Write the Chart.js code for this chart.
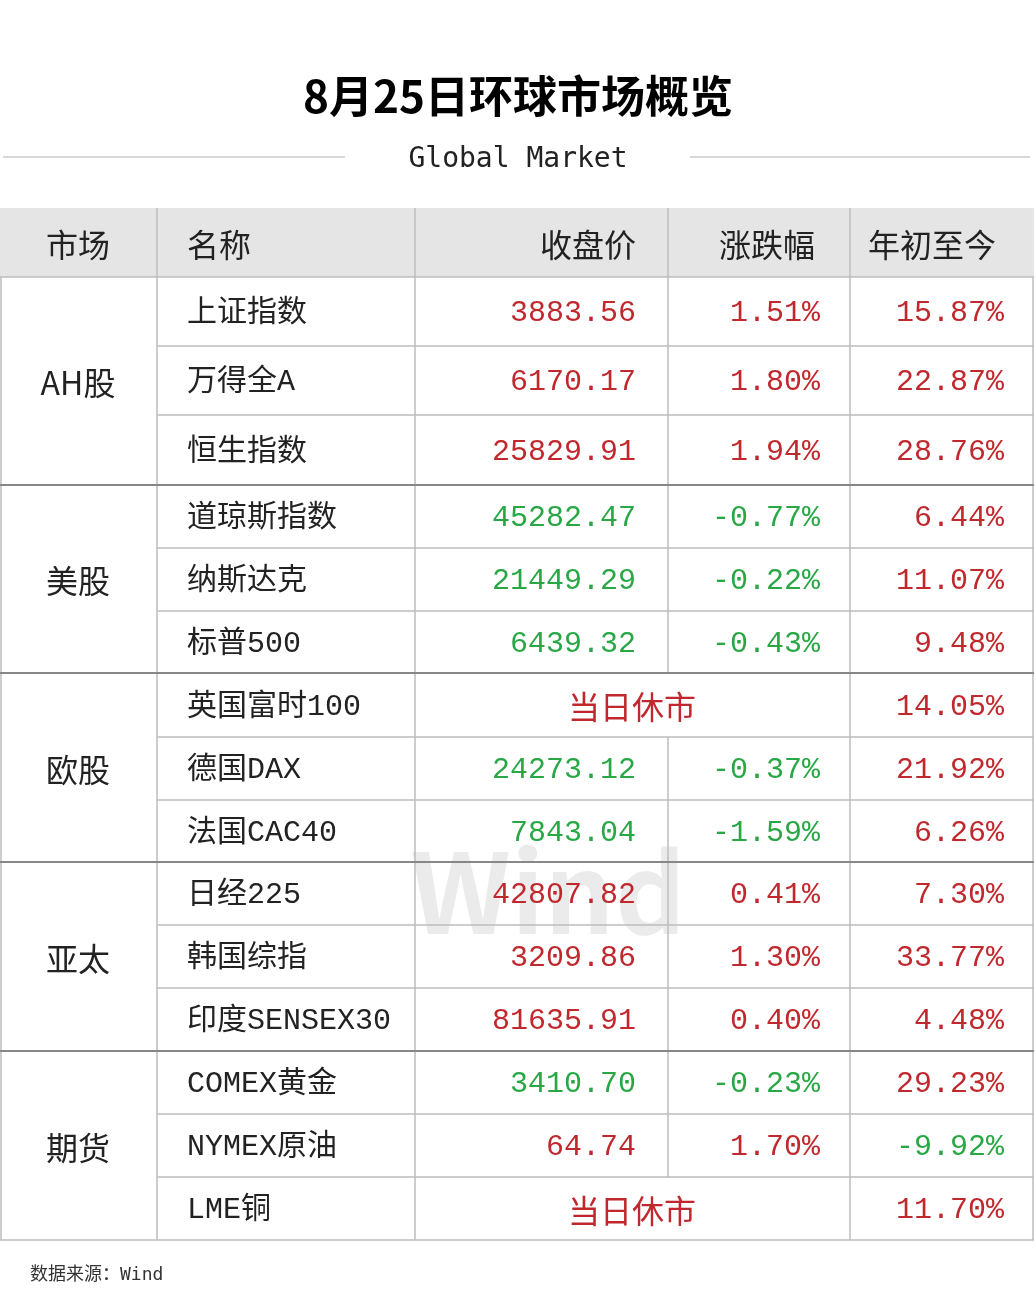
<!DOCTYPE html>
<html><head><meta charset="utf-8">
<script src="https://cdn.jsdelivr.net/npm/chart.js@4"></script>
<style>html,body{margin:0;padding:0;background:#fff}#w{width:1036px;height:1307px}</style>
</head><body><div id="w"><canvas id="c"></canvas></div>
<script>
const groups = ["AH股","美股","欧股","亚太","期货"];
const groupSizes = [3,3,3,3,3];
const names = ["上证指数","万得全A","恒生指数","道琼斯指数","纳斯达克","标普500","英国富时100","德国DAX","法国CAC40","日经225","韩国综指","印度SENSEX30","COMEX黄金","NYMEX原油","LME铜"];
const closes = ["3883.56","6170.17","25829.91","45282.47","21449.29","6439.32",null,"24273.12","7843.04","42807.82","3209.86","81635.91","3410.70","64.74",null];
const changes = [1.51,1.80,1.94,-0.77,-0.22,-0.43,null,-0.37,-1.59,0.41,1.30,0.40,-0.23,1.70,null];
const ytd = [15.87,22.87,28.76,6.44,11.07,9.48,14.05,21.92,6.26,7.30,33.77,4.48,29.23,-9.92,11.70];
const headers = ["市场","名称","收盘价","涨跌幅","年初至今"];
const closedText = "当日休市";

const RED="#c0282d", GREEN="#28a745", FONT='"Noto Sans CJK SC","Noto Sans",sans-serif';
const MONO='"Liberation Mono","Noto Sans CJK SC",monospace';
const colX=[0,157,415,668,850,1034];
const rowY=[208,277,346,415,485,548,611,673,737,800,862,925,988,1051,1114,1177,1240];

const tablePlugin={id:'tbl',afterDraw(chart){
  const ctx=chart.ctx, xs=chart.scales.x, ys=chart.scales.y;
  const X=v=>xs.getPixelForValue(v), Y=v=>ys.getPixelForValue(v);
  ctx.save();
  ctx.fillStyle="#000";ctx.textAlign="center";ctx.textBaseline="middle";
  ctx.font="bold 44px "+FONT;ctx.fillText("8月25日环球市场概览",X(518),Y(96));
  ctx.font="28px 'DejaVu Sans Mono',monospace";ctx.fillStyle="#222";ctx.fillText("Global Market",X(518),Y(160));
  ctx.strokeStyle="#ccc";ctx.lineWidth=1.5;
  ctx.beginPath();ctx.moveTo(X(3),Y(157));ctx.lineTo(X(345),Y(157));ctx.moveTo(X(690),Y(157));ctx.lineTo(X(1030),Y(157));ctx.stroke();
  ctx.font="bold 110px "+FONT;ctx.fillStyle="rgba(0,0,0,0.08)";ctx.fillText("Wind",X(548),Y(892));
  ctx.fillStyle="#e5e5e5";ctx.fillRect(X(0),Y(rowY[0]),X(1034)-X(0),Y(rowY[1])-Y(rowY[0]));
  ctx.font="32px "+FONT;ctx.fillStyle="#222";
  ctx.textAlign="center";ctx.fillText(headers[0],X(78),Y(245));
  ctx.textAlign="left";ctx.fillText(headers[1],X(187),Y(245));
  ctx.textAlign="right";ctx.fillText(headers[2],X(636),Y(245));
  ctx.textAlign="center";ctx.fillText(headers[3],X(767),Y(245));ctx.fillText(headers[4],X(932),Y(245));
  for(let i=0;i<names.length;i++){
    const cy=Y((rowY[i+1]+rowY[i+2])/2+2);
    ctx.font="30px "+MONO;ctx.fillStyle="#222";ctx.textAlign="left";ctx.fillText(names[i],X(187),cy);
    if(closes[i]===null){ctx.font="32px "+FONT;ctx.fillStyle=RED;ctx.textAlign="center";ctx.fillText(closedText,X(632),cy);ctx.font="30px "+MONO;}
    else{const c=changes[i]<0?GREEN:RED;ctx.fillStyle=c;ctx.textAlign="right";
      ctx.fillText(closes[i],X(636),cy);
      ctx.fillText(changes[i].toFixed(2)+"%",X(820),cy);}
    ctx.fillStyle=ytd[i]<0?GREEN:RED;ctx.textAlign="right";ctx.fillText(ytd[i].toFixed(2)+"%",X(1004),cy);
  }
  ctx.strokeStyle="#bdbdbd";ctx.lineWidth=1.5;ctx.beginPath();
  let r=1;const gStart=[];
  groups.forEach((g,gi)=>{gStart.push(r);r+=groupSizes[gi];});
  for(let i=1;i<rowY.length;i++){
    const isGroup=gStart.includes(i)||i===rowY.length-1;
    const x0=isGroup?0:157;
    ctx.moveTo(X(x0),Y(rowY[i]));ctx.lineTo(X(1034),Y(rowY[i]));
  }
  colX.forEach((cx,k)=>{
    const xx=X(cx)+(k==0?1:k==5?-1:0);
    if(k===3){
      ctx.moveTo(xx,Y(rowY[0]));
      for(let i=0;i<names.length;i++){
        if(closes[i]===null){ctx.lineTo(xx,Y(rowY[i+1]));ctx.moveTo(xx,Y(rowY[i+2]));}
      }
      ctx.lineTo(xx,Y(rowY[rowY.length-1]));
    } else {ctx.moveTo(xx,Y(rowY[k==0||k==5?1:0]));ctx.lineTo(xx,Y(rowY[rowY.length-1]));}
  });
  ctx.stroke();
  ctx.strokeStyle="#888";ctx.lineWidth=2;ctx.beginPath();
  gStart.slice(1).forEach(s=>{ctx.moveTo(X(0),Y(rowY[s]));ctx.lineTo(X(1034),Y(rowY[s]));});ctx.stroke();
  ctx.font="32px "+FONT;ctx.fillStyle="#222";ctx.textAlign="center";
  groups.forEach((g,gi)=>{const s=gStart[gi];const cy=(rowY[s]+rowY[s+groupSizes[gi]])/2+2;ctx.fillText(g,X(78),Y(cy));});
  ctx.font="18px 'DejaVu Sans Mono',"+FONT;ctx.textAlign="left";ctx.fillStyle="#333";ctx.fillText("数据来源：Wind",X(30),Y(1275));
  ctx.restore();
}};
new Chart(document.getElementById('c'),{type:'scatter',data:{datasets:[{data:[]}]},
 options:{responsive:true,maintainAspectRatio:false,animation:false,layout:{padding:0},
  plugins:{legend:{display:false},tooltip:{enabled:false}},
  scales:{x:{type:'linear',min:0,max:1036,display:false},y:{type:'linear',min:0,max:1307,reverse:true,display:false}}},
 plugins:[tablePlugin]});
</script></body></html>
